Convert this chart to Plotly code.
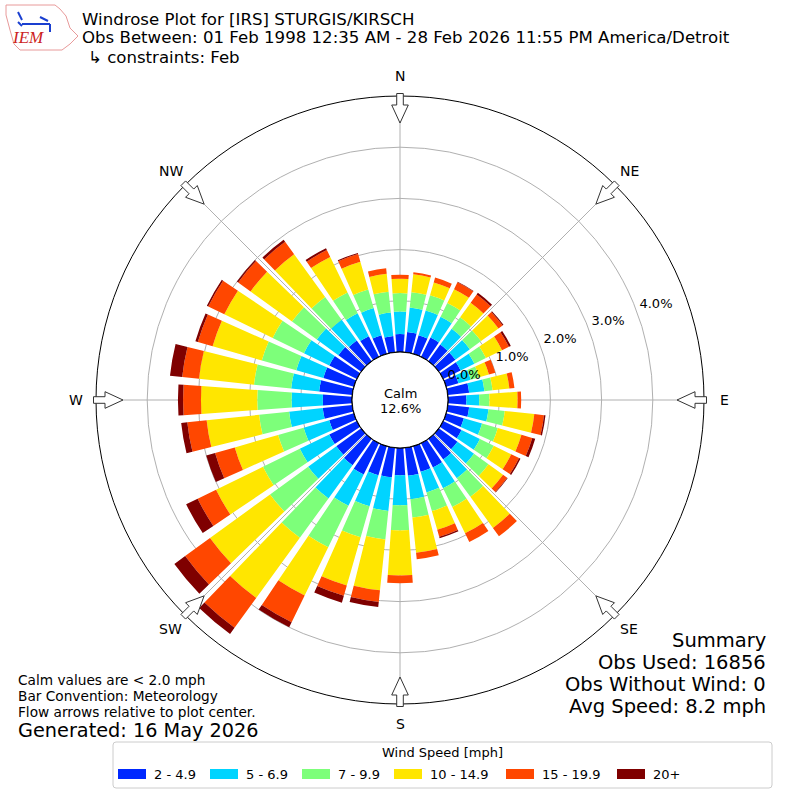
import math
import plotly.graph_objects as go

W = H = 800
FONT = "DejaVu Sans"

# ---------------- data (percent of observations) ----------------
directions = list(range(0, 360, 10))
speed_labels = ["2 - 4.9", "5 - 6.9", "7 - 9.9", "10 - 14.9", "15 - 19.9", "20+"]
speed_colors = ["#0028ff", "#00d4ff", "#7dff7a", "#ffe600", "#ff4700", "#7f0000"]

bin_2_5 = [0.35, 0.40, 0.38, 0.42, 0.40, 0.40, 0.38, 0.25, 0.42, 0.36,
           0.42, 0.36, 0.40, 0.45, 0.50, 0.53, 0.52, 0.55, 0.53, 0.58,
           0.59, 0.68, 0.64, 0.60, 0.60, 0.50, 0.58, 0.57, 0.65, 0.62,
           0.60, 0.55, 0.50, 0.45, 0.38, 0.32]
bin_5_7 = [0.44, 0.48, 0.50, 0.45, 0.38, 0.35, 0.30, 0.25, 0.30, 0.25,
           0.38, 0.37, 0.40, 0.40, 0.45, 0.45, 0.42, 0.46, 0.59, 0.66,
           0.63, 0.68, 0.80, 0.68, 0.64, 0.52, 0.66, 0.61, 0.55, 0.55,
           0.55, 0.52, 0.50, 0.50, 0.55, 0.46]
bin_7_10 = [0.36, 0.30, 0.31, 0.30, 0.28, 0.27, 0.25, 0.17, 0.16, 0.20,
            0.32, 0.32, 0.30, 0.35, 0.45, 0.41, 0.38, 0.36, 0.49, 0.56,
            0.63, 0.90, 0.95, 0.92, 0.80, 0.52, 0.59, 0.67, 0.73, 0.70,
            0.68, 0.60, 0.55, 0.45, 0.38, 0.41]
bin_10_15 = [0.28, 0.35, 0.26, 0.30, 0.35, 0.42, 0.35, 0.20, 0.33, 0.55,
             0.58, 0.48, 0.38, 0.35, 0.75, 0.57, 0.38, 0.69, 0.88, 1.00,
             0.98, 1.05, 1.45, 1.45, 1.02, 0.88, 1.03, 1.10, 1.08, 1.00,
             1.05, 1.00, 1.03, 0.77, 0.56, 0.35]
bin_15_20 = [0.08, 0.04, 0.10, 0.15, 0.20, 0.10, 0.15, 0.13, 0.10, 0.07,
             0.19, 0.22, 0.17, 0.10, 0.20, 0.19, 0.14, 0.13, 0.15, 0.23,
             0.21, 0.58, 0.72, 0.60, 0.40, 0.40, 0.38, 0.35, 0.33, 0.30,
             0.35, 0.30, 0.30, 0.15, 0.16, 0.11]
bin_20p = [0.00, 0.00, 0.00, 0.01, 0.04, 0.02, 0.04, 0.00, 0.00, 0.00,
           0.03, 0.06, 0.03, 0.01, 0.00, 0.00, 0.03, 0.00, 0.00, 0.10,
           0.14, 0.11, 0.15, 0.26, 0.25, 0.18, 0.12, 0.10, 0.24, 0.05,
           0.03, 0.03, 0.05, 0.04, 0.02, 0.00]
speed_bins = [bin_2_5, bin_5_7, bin_7_10, bin_10_15, bin_15_20, bin_20p]

calm_pct = 12.6
radial_ticks = [0, 1, 2, 3, 4]
compass_angles = [0, 45, 90, 135, 180, 225, 270, 315]
compass_labels = ["N", "NE", "E", "SE", "S", "SW", "W", "NW"]

# ---------------- geometry helpers ----------------
CX, CY, R_OUT, R_HOLE = 400, 400, 304, 48


def px(x):
    return x / W


def py(y):
    return 1 - y / H


fig = go.Figure()

for vals, name, col in zip(speed_bins, speed_labels, speed_colors):
    fig.add_trace(go.Barpolar(
        r=vals, theta=directions, width=[8] * len(directions),
        marker=dict(color=col, line=dict(width=0)),
        name=name, showlegend=False, hoverinfo="skip"))

# calm circle
circle_theta = list(range(0, 361, 2))
fig.add_trace(go.Scatterpolar(
    r=[0] * len(circle_theta), theta=circle_theta, mode="lines",
    line=dict(color="black", width=1.2), showlegend=False, hoverinfo="skip"))

# radial tick labels
fig.add_trace(go.Scatterpolar(
    r=[t + 0.40 for t in radial_ticks], theta=[69.5] * len(radial_ticks),
    mode="text", text=["%.1f%%" % t for t in radial_ticks],
    textfont=dict(family=FONT, size=13, color="black"),
    showlegend=False, hoverinfo="skip", cliponaxis=False))

# ---------------- flow arrows ----------------
shapes = []
arrow_local = [(277, 0), (295, 8.3), (295, 3.3), (306.5, 3.3),
               (306.5, -3.3), (295, -3.3), (295, -8.3)]
for a in compass_angles:
    t = math.radians(a)
    ux, uy = math.sin(t), -math.cos(t)
    vx, vy = math.cos(t), math.sin(t)
    pts = []
    for u, v in arrow_local:
        X = CX + u * ux + v * vx
        Y = CY + u * uy + v * vy
        pts.append("%.5f,%.5f" % (px(X), py(Y)))
    shapes.append(dict(type="path", xref="paper", yref="paper",
                       path="M" + " L".join(pts) + " Z",
                       fillcolor="white", line=dict(color="#333333", width=1)))

# ---------------- IEM logo (decoration) ----------------
logo_outline = [(6, 5), (55, 5), (60, 9), (66, 16), (70, 28), (78, 36),
                (70, 44), (62, 50), (20, 50), (14, 44), (10, 30), (6, 15)]
shapes.append(dict(type="path", xref="paper", yref="paper",
                   path="M" + " L".join("%.5f,%.5f" % (px(x), py(y)) for x, y in logo_outline) + " Z",
                   line=dict(color="#e89a9a", width=1), fillcolor="rgba(0,0,0,0)"))
logo_lines = [[(22, 24), (50, 24)], [(50, 24), (50, 32)], [(40, 17), (48, 21)],
              [(18, 12), (22, 20)], [(18, 22), (22, 26)]]
for seg in logo_lines:
    shapes.append(dict(type="path", xref="paper", yref="paper",
                       path="M" + " L".join("%.5f,%.5f" % (px(x), py(y)) for x, y in seg),
                       line=dict(color="#1a3fd0", width=2)))

# ---------------- legend (drawn) ----------------
LEG_X0, LEG_X1, LEG_Y0, LEG_Y1 = 113, 772, 742, 788
rr = 3
legend_box = ("M{a},{b} L{c},{b} Q{d},{b} {d},{e} L{d},{f} Q{d},{g} {c},{g} "
              "L{a},{g} Q{h},{g} {h},{f} L{h},{e} Q{h},{b} {a},{b} Z").format(
    a=px(LEG_X0 + rr), b=py(LEG_Y0), c=px(LEG_X1 - rr), d=px(LEG_X1), e=py(LEG_Y0 + rr),
    f=py(LEG_Y1 - rr), g=py(LEG_Y1), h=px(LEG_X0))
shapes.append(dict(type="path", xref="paper", yref="paper", path=legend_box,
                   fillcolor="white", line=dict(color="#cccccc", width=1)))
patch_x = [118, 210, 302, 394, 506, 617]
for x0, col in zip(patch_x, speed_colors):
    shapes.append(dict(type="rect", xref="paper", yref="paper",
                       x0=px(x0), x1=px(x0 + 28), y0=py(769), y1=py(779),
                       fillcolor=col, line=dict(width=0)))

# ---------------- text ----------------
ann = []


def text(x, y, s, size, xanchor="left", yanchor="middle", color="black", family=FONT, **kw):
    ann.append(dict(x=px(x), y=py(y), xref="paper", yref="paper", text=s, showarrow=False,
                    xanchor=xanchor, yanchor=yanchor,
                    font=dict(family=family, size=size, color=color), **kw))


text(80, 19, "Windrose Plot for [IRS] STURGIS/KIRSCH", 16.6)
text(80, 38, "Obs Between: 01 Feb 1998 12:35 AM - 28 Feb 2026 11:55 PM America/Detroit", 16.6)
text(86, 57, "↳ constraints: Feb", 16.6)
text(28, 38, "<i>IEM</i>", 17, xanchor="center", color="#cc2222", family="Liberation Serif")

# compass labels around the rose
LABEL_R = 324
for a, lab in zip(compass_angles, compass_labels):
    t = math.radians(a)
    text(CX + LABEL_R * math.sin(t), CY - LABEL_R * math.cos(t), lab, 14, xanchor="center")

text(400, 393, "Calm", 13, xanchor="center")
text(400, 408, "%.1f%%" % calm_pct, 13, xanchor="center")

text(16, 680, "Calm values are &lt; 2.0 mph", 13.7)
text(16, 696, "Bar Convention: Meteorology", 13.7)
text(16, 712, "Flow arrows relative to plot center.", 13.7)
text(16, 730, "Generated: 16 May 2026", 19.3)

text(768, 640, "Summary", 19.5, xanchor="right")
text(768, 662, "Obs Used: 16856", 19.5, xanchor="right")
text(768, 684, "Obs Without Wind: 0", 19.5, xanchor="right")
text(768, 706, "Avg Speed: 8.2 mph", 19.5, xanchor="right")

text((LEG_X0 + LEG_X1) / 2, 752, "Wind Speed [mph]", 13, xanchor="center")
for x0, name in zip(patch_x, speed_labels):
    text(x0 + 34, 774, name, 13)

fig.update_layout(
    width=W, height=H, margin=dict(l=0, r=0, t=0, b=0),
    paper_bgcolor="white", plot_bgcolor="white",
    font=dict(family=FONT, size=13, color="black"),
    polar=dict(
        domain=dict(x=[(CX - R_OUT) / W, (CX + R_OUT) / W], y=[(CY - R_OUT) / H, (CY + R_OUT) / H]),
        hole=R_HOLE / R_OUT, bgcolor="white", barmode="stack",
        radialaxis=dict(range=[0, 5], tickvals=radial_ticks[1:], showticklabels=False,
                        ticks="", showline=False, gridcolor="#b0b0b0", gridwidth=1),
        angularaxis=dict(rotation=90, direction="clockwise", tickvals=compass_angles,
                         showticklabels=False, showline=True, linecolor="black", linewidth=1,
                         gridcolor="#b0b0b0", gridwidth=1, ticks=""),
    ),
    showlegend=False,
    shapes=shapes, annotations=ann,
)

fig.write_html("out.html", config={"displayModeBar": False},
               post_script="document.body.style.margin='0px';")
